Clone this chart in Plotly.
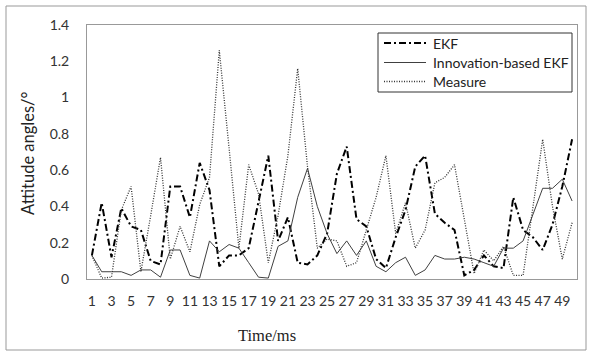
import plotly.graph_objects as go

time_ms = list(range(1, 51))

ekf = [0.13, 0.42, 0.12, 0.39, 0.29, 0.27, 0.10, 0.08, 0.51, 0.51,
       0.34, 0.64, 0.49, 0.07, 0.13, 0.13, 0.17, 0.43, 0.68, 0.21,
       0.34, 0.09, 0.08, 0.13, 0.25, 0.58, 0.73, 0.33, 0.29, 0.11,
       0.06, 0.23, 0.38, 0.62, 0.68, 0.36, 0.31, 0.27, 0.02, 0.05,
       0.13, 0.07, 0.06, 0.45, 0.27, 0.23, 0.16, 0.30, 0.51, 0.77]

innovation_ekf = [0.13, 0.04, 0.04, 0.04, 0.02, 0.05, 0.05, 0.01, 0.16, 0.16,
                  0.02, 0.005, 0.21, 0.15, 0.19, 0.17, 0.09, 0.01, 0.005, 0.18,
                  0.21, 0.45, 0.61, 0.40, 0.25, 0.14, 0.21, 0.13, 0.21, 0.07,
                  0.04, 0.09, 0.12, 0.02, 0.05, 0.13, 0.11, 0.11, 0.12, 0.11,
                  0.09, 0.07, 0.17, 0.17, 0.21, 0.36, 0.50, 0.50, 0.55, 0.43]

measure = [0.13, 0.005, 0.01, 0.38, 0.51, 0.04, 0.35, 0.67, 0.11, 0.29,
           0.15, 0.41, 0.56, 1.26, 0.72, 0.17, 0.63, 0.47, 0.09, 0.35,
           0.68, 1.16, 0.62, 0.17, 0.22, 0.21, 0.07, 0.09, 0.27, 0.45,
           0.68, 0.25, 0.42, 0.17, 0.27, 0.53, 0.56, 0.63, 0.33, 0.03,
           0.16, 0.10, 0.18, 0.02, 0.02, 0.40, 0.77, 0.40, 0.11, 0.31]

series_names = ["EKF", "Innovation-based EKF", "Measure"]

x_ticks = list(range(1, 50, 2))
y_ticks = [0, 0.2, 0.4, 0.6, 0.8, 1.0, 1.2, 1.4]
y_tick_text = ["0", "0.2", "0.4", "0.6", "0.8", "1", "1.2", "1.4"]

W, H = 591, 356
L, R, T, B = 87, 14, 25, 77
pw, ph = W - L - R, H - T - B

def px(xp):
    return (xp - L) / pw

def py(yp):
    return (H - B - yp) / ph

styles = [
    dict(color="black", width=2, dash="7px,3px,2px,3px"),
    dict(color="#404040", width=1),
    dict(color="#333333", width=1.3, dash="1px,1.5px"),
]

fig = go.Figure()
for name, vals, st in zip(series_names, [ekf, innovation_ekf, measure], styles):
    fig.add_trace(go.Scatter(x=time_ms, y=vals, mode="lines", name=name,
                             line=st, showlegend=False))

shapes = [
    dict(type="rect", xref="paper", yref="paper",
         x0=px(6), x1=px(586), y0=py(350), y1=py(6),
         line=dict(color="#999999", width=1), fillcolor="rgba(0,0,0,0)", layer="below"),
    dict(type="rect", xref="paper", yref="paper",
         x0=px(378), x1=px(572), y0=py(92), y1=py(33),
         line=dict(color="#333333", width=1), fillcolor="white", layer="above"),
]
annotations = [
    dict(text="Time/ms", xref="paper", yref="paper", x=px(267), y=py(335),
         xanchor="center", yanchor="middle", showarrow=False,
         font=dict(family="Liberation Serif, DejaVu Serif, serif", size=16.5, color="#222222")),
    dict(text="Attitude angles/°", xref="paper", yref="paper", x=px(28), y=py(153),
         xanchor="center", yanchor="middle", showarrow=False, textangle=-90,
         font=dict(family="Lato, Noto Sans, sans-serif", size=16.5, color="#222222")),
]
legend_rows = [43, 62.5, 81.5]
for name, st, ry in zip(series_names, styles, legend_rows):
    shapes.append(dict(type="line", xref="paper", yref="paper",
                       x0=px(384), x1=px(426), y0=py(ry), y1=py(ry),
                       line=dict(color=st["color"], width=st["width"], dash=st.get("dash", "solid")),
                       layer="above"))
    annotations.append(dict(text=name, xref="paper", yref="paper", x=px(431), y=py(ry),
                            xanchor="left", yanchor="middle", showarrow=False,
                            font=dict(family="Lato, Noto Sans, sans-serif", size=14, color="#222222")))

fig.update_layout(
    width=W, height=H,
    margin=dict(l=L, r=R, t=T, b=B, pad=0),
    paper_bgcolor="white", plot_bgcolor="white",
    font=dict(family="Lato, Noto Sans, sans-serif", size=14, color="#333333"),
    showlegend=False,
    xaxis=dict(range=[0.5, 50.5], tickmode="array", tickvals=x_ticks,
               ticktext=[str(v) for v in x_ticks], showgrid=False, zeroline=False,
               showline=True, linecolor="#999999", linewidth=1, mirror=True,
               ticks="", ticklabelstandoff=9, tickangle=0,
               tickfont=dict(size=14)),
    yaxis=dict(range=[0, 1.4], tickmode="array", tickvals=y_ticks, ticktext=y_tick_text,
               showgrid=False, zeroline=False, showline=True, linecolor="#999999",
               linewidth=1, mirror=True, ticks="", ticklabelstandoff=14,
               tickfont=dict(size=14)),
    shapes=shapes,
    annotations=annotations,
)

fig.write_html("out.html", config={"displayModeBar": False},
               post_script="document.body.style.margin='0';document.body.style.overflow='hidden';")
